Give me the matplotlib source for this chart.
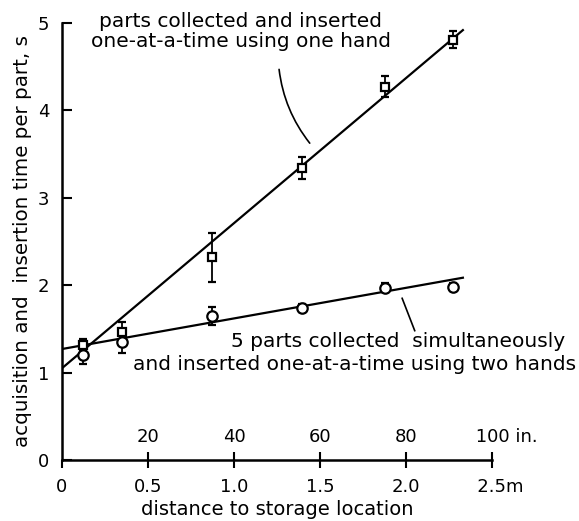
import numpy as np
import matplotlib.pyplot as plt

# distance to storage location (m)
dist = [0.12, 0.35, 0.87, 1.395, 1.88, 2.27]

# one hand: parts collected and inserted one at a time
one_hand = [1.32, 1.47, 2.32, 3.34, 4.27, 4.81]
one_hand_err = [0.07, 0.11, 0.28, 0.13, 0.12, 0.10]

# two hands: 5 parts collected simultaneously
two_hands = [1.20, 1.35, 1.65, 1.74, 1.97, 1.98]
two_hands_err = [0.10, 0.13, 0.10, 0.05, 0.05, 0.05]

# fitted lines (intercept, slope) over 0..2.33 m
fit_one = (1.05, 1.66)
fit_two = (1.27, 0.35)
fit_end = 2.33

m_ticks = [0, 0.5, 1.0, 1.5, 2.0, 2.5]
m_labels = ['0', '0.5', '1.0', '1.5', '2.0', '   2.5m']
in_ticks = [20, 40, 60, 80, 100]
in_labels = ['20', '40', '60', '80', '     100 in.']

plt.rcParams['font.family'] = 'DejaVu Sans'

fig = plt.figure(figsize=(5.79, 5.21), dpi=100)
ax = fig.add_axes([0.107, 0.117, 0.743, 0.839])

xf = np.array([0, fit_end])
ax.plot(xf, fit_one[0] + fit_one[1] * xf, color='black', lw=1.6)
ax.plot(xf, fit_two[0] + fit_two[1] * xf, color='black', lw=1.6)

ax.errorbar(dist, one_hand, yerr=one_hand_err, fmt='s', ms=6, mfc='white',
            mec='black', mew=1.6, ecolor='black', elinewidth=1.3, capsize=3,
            capthick=1.6, zorder=3)
ax.errorbar(dist, two_hands, yerr=two_hands_err, fmt='o', ms=7.5, mfc='white',
            mec='black', mew=1.6, ecolor='black', elinewidth=1.3, capsize=3,
            capthick=1.6, zorder=3)

ax.set_xlim(0, 2.5)
ax.set_ylim(0, 5)
for s in ['top', 'right']:
    ax.spines[s].set_visible(False)
for s in ['left', 'bottom']:
    ax.spines[s].set_linewidth(1.8)

ax.set_yticks([0, 1, 2, 3, 4, 5])
ax.tick_params(axis='y', direction='in', length=7, width=1.5, labelsize=13, pad=9)
ax.set_xticks(m_ticks)
ax.set_xticklabels(m_labels)
ax.tick_params(axis='x', direction='out', length=6, width=1.5, labelsize=13, pad=7)

# inch scale drawn on top of the metre axis
sec = ax.secondary_xaxis(0.0, functions=(lambda m: m * 40, lambda i: i / 40))
sec.set_alignment('top')
sec.spines['top'].set_visible(False)
sec.spines['bottom'].set_visible(False)
sec.set_xticks(in_ticks)
sec.set_xticklabels(in_labels)
sec.tick_params(axis='x', direction='out', length=6, width=1.5, labelsize=13, pad=4)

ax.set_xlabel('distance to storage location', fontsize=14, labelpad=3)
ax.set_ylabel('acquisition and  insertion time per part, s', fontsize=14.3, labelpad=4)

ax.text(1.04, 5.12, 'parts collected and inserted\none-at-a-time using one hand',
        ha='center', va='top', fontsize=14.5, linespacing=1.05)
ax.annotate('', xy=(1.45, 3.6), xytext=(1.26, 4.5),
            arrowprops=dict(arrowstyle='-', color='black', lw=1.2,
                            connectionstyle='arc3,rad=0.15'))

ax.text(0.98, 1.36, '5 parts collected  simultaneously', ha='left', va='center',
        fontsize=14.5)
ax.text(0.41, 1.09, 'and inserted one-at-a-time using two hands', ha='left',
        va='center', fontsize=14.5)
ax.plot([1.977, 2.05], [1.85, 1.48], color='black', lw=1.2)

fig.savefig('out.png', dpi=100)
